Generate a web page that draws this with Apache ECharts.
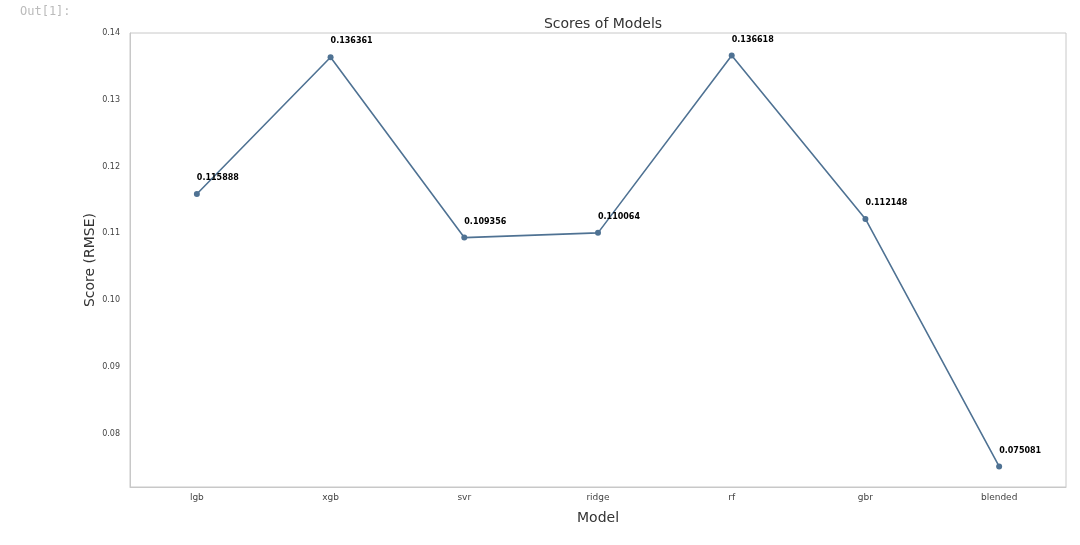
<!DOCTYPE html>
<html>
<head>
<meta charset="utf-8">
<script src="https://cdn.jsdelivr.net/npm/echarts@6/dist/echarts.min.js"></script>
<style>html,body{margin:0;padding:0;background:#fff;}#c{width:1080px;height:545px;}</style>
</head>
<body>
<div id="c"></div>
<script>
const categories = ['lgb', 'xgb', 'svr', 'ridge', 'rf', 'gbr', 'blended'];
const scores = [0.115888, 0.136361, 0.109356, 0.110064, 0.136618, 0.112148, 0.075081];
const yTicks = [0.08, 0.09, 0.10, 0.11, 0.12, 0.13, 0.14];

const chart = echarts.init(document.getElementById('c'));
chart.setOption({
  animation: false,
  backgroundColor: '#fff',
  title: {
    text: 'Scores of Models',
    left: 598, top: 12, textAlign: 'center',
    textStyle: { fontFamily: 'DejaVu Sans', fontSize: 14, fontWeight: 'normal', color: '#333' }
  },
  graphic: [{
    type: 'text', left: 20, top: 6,
    style: { text: 'Out[1]:', fill: '#bbb', font: '12px "DejaVu Sans Mono"' }
  }],
  grid: { left: 130, right: 14, top: 33, bottom: 58, show: true, borderColor: '#c8c8c8', borderWidth: 1 },
  xAxis: {
    type: 'category', data: categories, boundaryGap: true,
    name: 'Model', nameLocation: 'middle', nameGap: 24,
    nameTextStyle: { fontFamily: 'DejaVu Sans', fontSize: 14, color: '#333' },
    axisLine: { lineStyle: { color: '#c8c8c8' } },
    axisTick: { show: false },
    axisLabel: { fontFamily: 'DejaVu Sans', fontSize: 9, color: '#444', margin: 6 },
    splitLine: { show: false }
  },
  yAxis: {
    type: 'value', min: 0.072, max: 0.14, interval: 0.002,
    name: 'Score (RMSE)', nameLocation: 'middle', nameGap: 33, nameMoveOverlap: false,
    nameTextStyle: { fontFamily: 'DejaVu Sans', fontSize: 14, color: '#333' },
    axisLine: { show: true, lineStyle: { color: '#c8c8c8' } },
    axisTick: { show: false },
    splitLine: { show: false },
    axisLabel: {
      fontFamily: 'DejaVu Sans', fontSize: 8, color: '#444', margin: 10,
      formatter: v => {
        const t = yTicks.find(x => Math.abs(x - v) < 1e-7);
        return t === undefined ? '' : t.toFixed(2);
      }
    }
  },
  series: [{
    type: 'line', data: scores,
    symbol: 'circle', symbolSize: 6,
    lineStyle: { color: '#4f7293', width: 1.6 },
    itemStyle: { color: '#4f7293' },
    label: {
      show: true, position: [3, -13], align: 'left', verticalAlign: 'middle',
      fontFamily: 'DejaVu Sans', fontSize: 8, fontWeight: 'bold', color: '#000',
      formatter: p => scores[p.dataIndex].toFixed(6)
    }
  }]
});
</script>
</body>
</html>
